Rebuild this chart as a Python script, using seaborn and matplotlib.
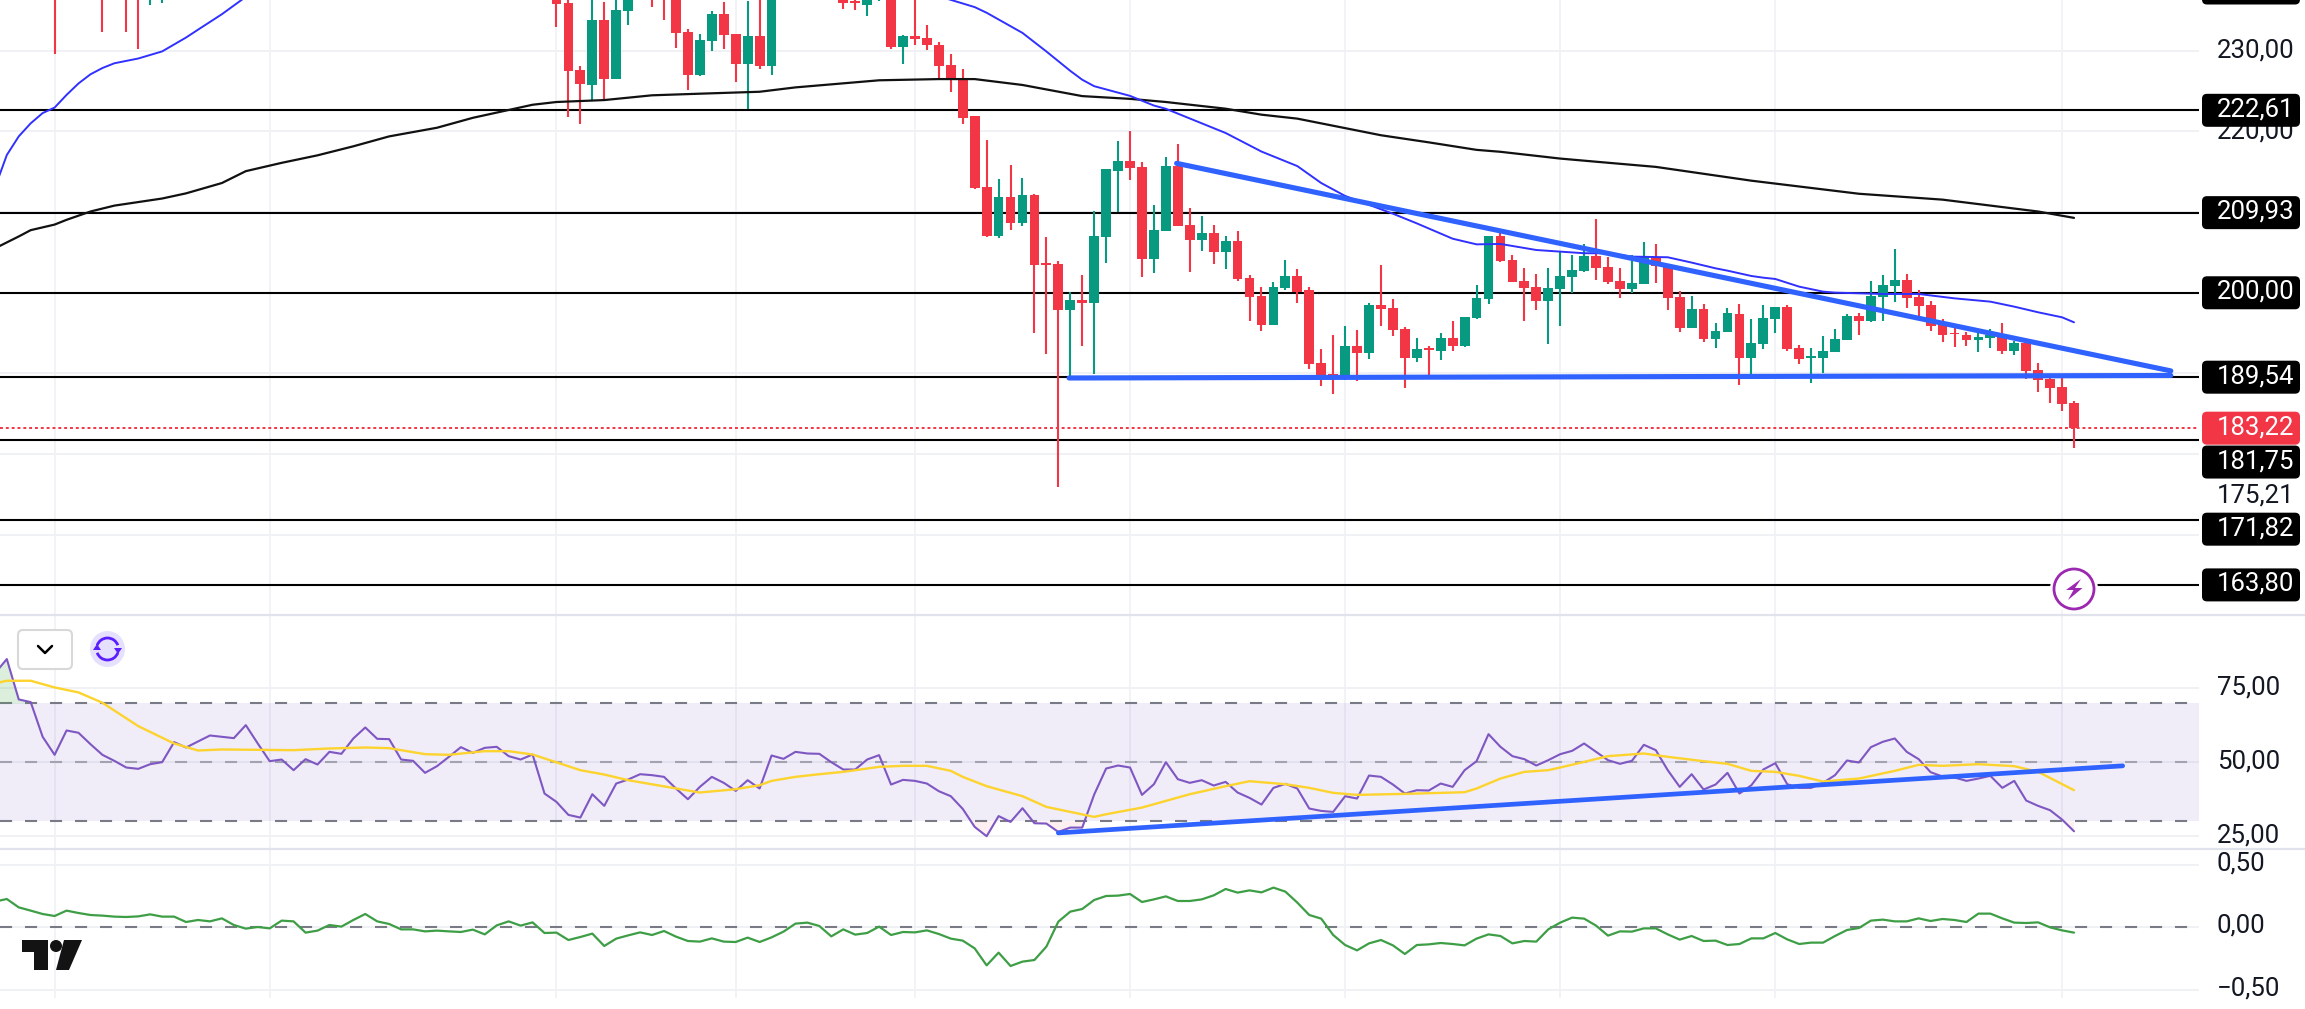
import numpy as np
import pandas as pd
import seaborn as sns
import matplotlib.pyplot as plt
from matplotlib.patches import FancyBboxPatch, Polygon, Ellipse, Arc, Circle

sns.set_theme(style='white')
plt.rcParams['font.family'] = ['Roboto', 'DejaVu Sans']

W, H = 2305, 1009
RIGHT = 2199

RED = '#f23645'
GREEN = '#089981'
GRID = '#f0f1f5'
TREND = '#2f62ff'
DASH = '#787b86'

# candles for bars 42..169, earlier ones are off the top of the screen
opens = [238.0, 235.91, 227.61, 225.75, 233.80, 226.49, 234.92, 240, 240, 241, 238, 232.32, 226.99, 231.20, 234.55, 232.07, 228.35, 231.82, 228.10,
         238, 240, 242, 241, 240,
         236.28, 236.16, 235.66, 237, 240, 230.46, 231.82, 231.57, 230.70, 228.23, 226.49, 221.91, 213.11, 207.04, 211.87, 208.65, 212.12, 203.69, 203.57, 197.87, 199.11, 198.74, 206.91, 215.09, 216.33, 215.59, 204.19, 207.66, 215.71, 208.40, 206.54, 207.41, 205.06, 206.42, 201.83, 199.60, 196.01, 200.60, 202.08, 200.35, 191.30, 189.94, 189.32, 193.41, 192.54, 198.49, 198.12, 195.52, 191.92, 193.16, 192.79, 194.40, 193.41, 196.88, 199.23, 207.04, 204.07, 201.46, 200.72, 198.99, 200.47, 201.96, 202.70, 204.56, 203.20, 201.46, 200.47, 201.09, 204.44, 203.45, 199.48, 195.64, 197.99, 194.28, 195.15, 197.38, 191.96, 193.70, 196.75, 198.24, 193.16, 191.96, 191.92, 192.66, 194.15, 197.13, 196.51, 199.48, 200.84, 201.58, 199.48, 198.49, 196.01, 195.02, 194.77, 194.19, 194.40, 194.77, 192.79, 193.78, 190.43, 189.32, 188.33, 186.35]
highs = [239.0, 237.0, 228.10, 237.0, 236.03, 237.5, 239, 242, 241, 242, 240, 232.69, 232.07, 234.92, 236.03, 232.07, 236.16, 237, 240,
         241, 243, 244, 243, 241,
         237, 237, 238, 239, 241, 231.94, 237, 233.18, 231.08, 229.59, 227.73, 221.91, 218.93, 214.10, 215.83, 214.22, 212.24, 206.91, 203.94, 200.10, 202.21, 210.14, 215.34, 218.81, 220.05, 216.21, 210.88, 216.83, 218.44, 210.51, 209.52, 208.40, 207.04, 207.66, 202.21, 200.72, 201.34, 204.06, 202.95, 200.72, 193.04, 194.77, 195.89, 195.39, 198.74, 203.44, 199.23, 195.76, 194.40, 193.41, 195.02, 196.51, 197.00, 200.97, 207.08, 207.41, 204.69, 203.07, 202.33, 203.07, 205.18, 204.69, 206.05, 209.15, 204.44, 203.07, 204.69, 206.30, 206.05, 203.45, 200.23, 199.61, 198.61, 196.26, 198.12, 198.61, 196.75, 198.49, 198.24, 198.49, 193.53, 193.16, 194.65, 195.51, 197.37, 197.50, 201.46, 202.20, 205.43, 202.33, 200.35, 198.98, 196.75, 196.13, 195.14, 195.14, 195.51, 196.26, 194.03, 193.90, 191.30, 189.94, 189.81, 186.59]
lows = [232.93, 221.78, 220.92, 223.77, 224.01, 226.49, 233.18, 237, 235.41, 233.80, 230.33, 225.13, 226.86, 229.96, 230.21, 226.12, 222.77, 227.73, 226.99,
        237, 238, 240, 239, 238,
        235.16, 235.04, 234.30, 236.16, 230.21, 228.35, 230.70, 230.09, 226.37, 224.88, 220.92, 212.86, 206.92, 206.79, 207.78, 208.28, 195.02, 192.42, 175.98, 189.40, 193.41, 189.94, 203.69, 210.01, 213.98, 201.96, 202.45, 207.66, 208.28, 202.58, 205.18, 203.57, 202.95, 201.46, 196.51, 195.27, 196.01, 200.35, 198.74, 190.56, 188.45, 187.46, 189.20, 189.07, 191.80, 195.89, 194.65, 188.21, 191.43, 189.82, 191.68, 192.79, 193.29, 196.76, 198.61, 203.82, 201.34, 196.51, 197.87, 193.66, 195.89, 199.98, 202.58, 201.59, 201.09, 199.36, 199.98, 201.09, 201.22, 197.87, 195.15, 195.64, 193.91, 193.16, 195.15, 188.58, 189.48, 193.08, 195.06, 192.83, 191.18, 188.82, 190.06, 192.66, 194.15, 194.77, 196.38, 196.51, 198.86, 198.12, 196.88, 195.27, 193.90, 193.28, 193.41, 192.66, 193.16, 192.42, 192.29, 189.32, 187.71, 186.35, 185.35, 180.77]
closes = [235.78, 227.48, 225.87, 233.80, 226.49, 235.04, 237.0, 241, 238, 238, 232.19, 226.99, 231.32, 234.55, 231.94, 228.35, 231.82, 228.10, 238,
          240, 242, 241, 240, 239,
          235.91, 235.91, 237, 238, 230.46, 231.82, 231.45, 230.70, 228.10, 226.37, 221.66, 212.99, 207.04, 211.87, 208.65, 212.12, 203.44, 203.44, 197.87, 199.11, 198.74, 207.04, 215.34, 216.33, 215.46, 204.19, 207.78, 215.71, 208.28, 206.54, 207.41, 205.06, 206.42, 201.71, 199.48, 196.01, 200.72, 202.08, 200.10, 191.18, 189.82, 189.44, 193.41, 192.54, 198.49, 197.99, 195.39, 191.92, 193.04, 192.91, 194.40, 193.41, 197.00, 199.36, 207.04, 203.94, 201.34, 200.60, 198.99, 200.60, 202.08, 202.83, 204.56, 203.07, 201.34, 200.47, 201.22, 204.44, 203.32, 199.36, 195.64, 197.99, 194.28, 195.27, 197.50, 191.97, 193.78, 196.88, 198.24, 193.04, 191.80, 192.17, 192.79, 194.27, 197.13, 196.51, 199.60, 200.97, 201.58, 199.35, 198.36, 195.89, 194.77, 194.85, 194.15, 194.52, 194.77, 192.79, 193.78, 190.31, 189.19, 188.20, 186.22, 183.22]
first_bar = 42

# lone wicks that hang into the view from the top
wick_bars = [0, 4, 6, 7, 8, 9]
wick_lows = [229.59, 232.32, 232.32, 230.2, 235.66, 235.9]
wick_colors = [RED, RED, RED, RED, GREEN, GREEN]

# moving averages
fast_bars = [-5, -4, -3, -2, -1, 0, 1, 2, 3, 4, 5, 7, 9, 11, 12, 14, 16, 40, 77, 78, 81, 83, 85, 86, 87, 90, 92, 93, 98, 101, 104, 106, 108, 112, 114, 117, 119, 121, 124, 126, 128, 130, 132, 135, 137, 139, 140, 142, 143, 144, 146, 148, 149, 153, 156, 159, 162, 164, 166, 168, 169]
fast_vals = [213.0, 217.07, 219.38, 221.0, 222.27, 222.95, 224.52, 225.94, 227.07, 227.85, 228.44, 229.03, 229.91, 231.63, 232.6, 234.52, 236.67, 252.0, 235.4, 234.7, 232.2, 229.9, 227.5, 226.4, 225.6, 224.4, 223.2, 222.8, 219.8, 217.5, 215.7, 213.6, 212.0, 209.8, 208.6, 206.7, 206.0, 206.05, 205.3, 205.1, 204.9, 204.9, 204.48, 204.4, 203.74, 203.03, 202.74, 202.08, 201.87, 201.71, 200.76, 200.14, 200.02, 199.85, 199.85, 199.31, 198.9, 198.28, 197.58, 196.96, 196.34]
slow_bars = [-5, -3, -2, 0, 1, 3, 5, 9, 11, 14, 16, 19, 22, 25, 28, 32, 35, 40, 42, 46, 50, 54, 59, 62, 69, 74, 77, 81, 86, 90, 93, 98, 101, 104, 109, 111, 115, 119, 121, 126, 129, 134, 142, 151, 158, 166, 169]
slow_vals = [205.5, 206.98, 207.76, 208.45, 209.04, 210.07, 210.8, 211.68, 212.32, 213.6, 215.07, 216.1, 217.03, 218.15, 219.38, 220.45, 221.68, 223.3, 223.64, 223.88, 224.47, 224.67, 224.91, 225.45, 226.33, 226.48, 226.48, 225.75, 224.37, 224.03, 223.64, 222.81, 222.07, 221.58, 220.11, 219.52, 218.64, 217.71, 217.47, 216.63, 216.24, 215.6, 213.89, 212.27, 211.54, 210.07, 209.28]

# horizontal levels and hand drawn trend lines
levels = [222.61, 209.93, 200.00, 189.54, 181.75, 171.82, 163.80]
level_labels = ['222,61', '209,93', '200,00', '189,54', '181,75', '171,82', '163,80']
level_shift = [0, 0, 0, 0, 22, 9, 0]
last_price = 183.22
price_grid = [160, 170, 180, 190, 200, 210, 220, 230]
time_grid = [0, 18, 42, 57, 72, 90, 108, 126, 144, 168]
trend_down_bars, trend_down_vals = [93.9, 177.1], [216.04, 190.32]
trend_flat_bars, trend_flat_vals = [84.9, 177.1], [189.44, 189.75]
trend_rsi_bars, trend_rsi_vals = [84.0, 173.07], [26.05, 48.76]

# RSI from bar -5 to bar 169
rsi_vals = [80.06, 84.92, 71.25, 70.34, 58.59, 52.49, 60.74, 59.95, 56.10, 52.49, 50.45, 48.19, 47.74, 49.32, 50.0, 56.78, 54.97, 57.0, 59.04, 58.59, 58.14, 62.55, 56.33, 50.34, 50.9, 47.29, 51.02, 49.21, 53.5, 52.83, 58.03, 61.75, 57.91, 57.8, 50.9, 50.45, 46.39, 48.65, 51.81, 55.09, 53.17, 54.86, 55.2, 52.04, 50.9, 52.6, 39.38, 36.55, 32.15, 31.24, 39.15, 35.2, 42.77, 44.13, 45.93, 45.6, 45.03, 41.08, 37.46, 41.64, 45.03, 43.0, 40.28, 43.9, 41.08, 52.26, 51.13, 53.5,
            52.94, 52.83, 50.0, 47.52, 47.52, 50.9, 52.38, 42.43, 44.01, 43.67, 42.77, 40.17, 38.48, 34.18, 28.08, 24.92, 31.75, 29.77, 34.41, 29.32, 29.21, 26.39, 27.85, 27.85, 39.04, 47.86, 48.87, 48.19, 38.93, 42.54, 50.0, 44.24, 43.0, 43.9, 42.09, 43.33, 39.72, 37.91, 35.65, 41.3, 42.66, 41.08, 34.3, 33.5, 33.16, 38.48, 37.69, 45.48, 45.03, 42.43, 39.38, 40.51, 40.4, 42.77, 41.64, 47.29, 50.34, 59.49, 55.2,
            52.04, 51.02, 48.87, 50.68, 52.71, 53.84, 56.33, 53.5, 50.68, 49.44, 50.45, 55.88, 54.07, 47.29, 41.64, 45.93, 40.74, 42.43, 46.39, 39.38, 42.2, 47.52, 49.66, 42.54, 41.3, 41.3, 43.0, 45.6, 50.57, 49.89, 55.09, 56.9, 58.03, 53.5, 51.02, 46.61, 45.14, 44.8, 43.67, 44.46, 45.37, 41.3, 43.67, 37.0, 35.2, 33.73, 30.57, 26.61]
rsi_ma_bars = [-5, -4, -2, 0, 2, 4, 7, 10, 12, 14, 20, 23, 26, 28, 31, 33, 36, 38, 40, 44, 46, 48, 54, 57, 59, 60, 62, 64, 66, 69, 71, 73, 75, 76, 78, 81, 83, 87, 88, 91, 94, 95, 98, 100, 103, 105, 107, 109, 113, 118, 119, 121, 123, 125, 126, 128, 130, 133, 135, 138, 140, 142, 144, 146, 148, 151, 154, 156, 158, 161, 164, 166, 169]
rsi_ma_vals = [76.67, 77.57, 77.57, 75.31, 73.62, 70.12, 62.21, 56.33, 53.96, 54.3, 54.07, 54.64, 54.97, 54.75, 52.71, 52.49, 53.73, 53.73, 52.6, 47.29, 45.82, 43.9, 39.72, 40.85, 42.2, 43.67, 45.03, 45.93, 46.72, 48.42, 48.76, 48.76, 47.06, 45.03, 41.87, 38.48, 34.86, 31.47, 32.37, 34.63, 38.02, 39.15, 41.87, 43.56, 42.54, 41.3, 39.61, 38.93, 39.27, 39.83, 41.08, 44.46, 46.72, 47.29, 48.19, 50.1, 52.04, 52.94, 51.81, 50.34, 49.44, 47.06, 46.72, 45.37, 43.45, 44.46, 47.06, 49.1, 48.76, 49.32, 48.65, 46.72, 40.51]

# lower oscillator from bar -5 to bar 169
osc_vals = [.203, .224, .157, .131, .104, .088, .131, .112, .096, .091, .083, .08, .085, .101, .083, .083, .04, .056, .045, .069, .016, -.013, 0, -.011, .051, .045, -.045, -.029, .016, .003, .056, .104, .045, .024, -.019, -.019, -.035, -.029, -.035, -.04, -.021, -.059, .013, .045, .011, .037, -.048, -.045, -.104, -.08, -.053, -.152, -.093, -.067, -.043, -.064, -.032, -.077, -.112, -.117, -.091, -.117, -.12, -.085, -.12, -.083, -.037, .027,
            .035, .008, -.075, -.019, -.061, -.048, .003, -.064, -.04, -.043, -.027, -.056, -.093, -.109, -.171, -.307, -.205, -.312, -.277, -.264, -.157, .043, .123, .144, .216, .248, .251, .264, .2, .221, .245, .208, .208, .221, .253, .304, .275, .293, .277, .315, .283, .195, .096, .067, -.064, -.144, -.187, -.131, -.104, -.147, -.216, -.144, -.139, -.128, -.136, -.147, -.093, -.059, -.072,
            -.131, -.112, -.117, -.019, .035, .075, .067, .011, -.069, -.035, -.037, -.011, -.011, -.059, -.101, -.072, -.112, -.109, -.144, -.136, -.091, -.091, -.048, -.099, -.136, -.125, -.125, -.072, -.024, -.008, .051, .059, .045, .045, .069, .048, .064, .056, .04, .107, .107, .069, .035, .032, .037, -.003, -.027, -.045]

rsi_ticks, rsi_tick_labels = [75, 50, 25], ['75,00', '50,00', '25,00']
osc_ticks, osc_tick_labels = [0.5, 0.0, -0.5], ['0,50', '0,00', '\u22120,50']


def panel(top, bottom, ylim):
    ax = fig.add_axes([0, 1 - bottom / H, RIGHT / W, (bottom - top) / H])
    ax.set_xlim(-4.57, 179.46)
    ax.set_ylim(*ylim)
    ax.axis('off')
    for b in time_grid:
        ax.axvline(b, color=GRID, lw=1.2, zorder=0.5)
    return ax


def line(ax, x, y, color, lw, z=3):
    df = pd.DataFrame({'x': x, 'y': y})
    sns.lineplot(data=df, x='x', y='y', ax=ax, color=color, linewidth=lw,
                 estimator=None, sort=False, legend=False, zorder=z)


def dashed(ax, value, alpha=1.0):
    ax.axhline(value, color=DASH, lw=1.5, alpha=alpha, linestyle=(0, (5.8, 6.2)), zorder=1.5)


fig = plt.figure(figsize=(W / 100, H / 100), dpi=100, facecolor='white')

# price panel
ax_main = panel(0, 615, (160.07, 236.28))
for p in price_grid:
    ax_main.axhline(p, color=GRID, lw=1.4, zorder=0.6)
for lv in levels:
    ax_main.axhline(lv, color='black', lw=1.5, zorder=1)
ax_main.axhline(last_price, color=RED, lw=1.4, linestyle=(0, (1.5, 1.5)), zorder=1.2)

ax_main.vlines(wick_bars, wick_lows, 240, colors=wick_colors, lw=1.5, zorder=2)
bars = np.arange(first_bar, first_bar + len(opens))
o, h, l, c = map(np.array, (opens, highs, lows, closes))
candle_colors = np.where(c >= o, GREEN, RED)
ax_main.vlines(bars, l, h, colors=candle_colors, lw=1.5, zorder=2)
ax_main.bar(bars, np.abs(c - o), bottom=np.minimum(o, c), width=0.82,
            color=candle_colors, linewidth=0, zorder=2.5)

line(ax_main, slow_bars, slow_vals, '#111111', 1.6)
line(ax_main, fast_bars, fast_vals, '#3030ff', 1.4)
line(ax_main, trend_down_bars, trend_down_vals, TREND, 3.7, z=4)
line(ax_main, trend_flat_bars, trend_flat_vals, TREND, 3.7, z=4)

# RSI panel
ax_rsi = panel(616, 849, (20.6, 99.5))
for t in rsi_ticks:
    ax_rsi.axhline(t, color=GRID, lw=1.4, zorder=0.6)
ax_rsi.axhspan(30, 70, color='#7e57c2', alpha=0.11, lw=0, zorder=1)
dashed(ax_rsi, 70)
dashed(ax_rsi, 30)
dashed(ax_rsi, 50, alpha=0.6)
rsi_bars = np.arange(-5, -5 + len(rsi_vals))
rsi = np.array(rsi_vals)
ax_rsi.fill_between(rsi_bars, rsi, 70, where=rsi > 70, interpolate=True,
                    color='#4caf50', alpha=0.2, lw=0, zorder=1.6)
ax_rsi.fill_between(rsi_bars, rsi, 30, where=rsi < 30, interpolate=True,
                    color=RED, alpha=0.07, lw=0, zorder=1.6)
line(ax_rsi, rsi_bars, rsi_vals, '#7e57c2', 1.5)
line(ax_rsi, rsi_ma_bars, rsi_ma_vals, '#fdd32e', 1.7, z=3.1)
line(ax_rsi, trend_rsi_bars, trend_rsi_vals, TREND, 3.4, z=4)

# oscillator panel
ax_osc = panel(849, 998, (-0.568, 0.624))
for t in osc_ticks:
    ax_osc.axhline(t, color=GRID, lw=1.4, zorder=0.6)
dashed(ax_osc, 0)
line(ax_osc, np.arange(-5, -5 + len(osc_vals)), osc_vals, '#3d9e46', 1.6)

# everything in the right gutter and the small icons, in pixels
ov = fig.add_axes([0, 0, 1, 1], zorder=10)
ov.set_xlim(0, W)
ov.set_ylim(H, 0)
ov.axis('off')
ov.patch.set_alpha(0)


def to_px(ax, value):
    return H - ax.transData.transform((0, value))[1]


def tick_text(y, label):
    ov.text(2217, y, label, fontsize=18.5, color='#131722', va='center', ha='left', zorder=2)


def price_box(y, label, color):
    ov.add_patch(FancyBboxPatch((2206, y - 12.5), 90, 25, boxstyle='round,pad=4,rounding_size=5',
                                fc=color, ec='none', zorder=3))
    if label:
        ov.text(2217, y - 1, label, fontsize=18.5, color='white', va='center', ha='left', zorder=4)


for y in (615, 849):
    ov.plot([0, W], [y, y], color='#e0e3eb', lw=1.6, zorder=1)

tick_text(to_px(ax_main, 230), '230,00')
tick_text(to_px(ax_main, 220), '220,00')
tick_text(495, '175,21')
for t, lab in zip(rsi_ticks, rsi_tick_labels):
    tick_text(to_px(ax_rsi, t) - 1, lab)
for t, lab in zip(osc_ticks, osc_tick_labels):
    tick_text(to_px(ax_osc, t) - 1, lab)

price_box(-12, '', 'black')
for lv, lab, sh in zip(levels, level_labels, level_shift):
    price_box(to_px(ax_main, lv) + sh, lab, 'black')
price_box(to_px(ax_main, last_price), '183,22', RED)

# lightning badge
ov.add_patch(Circle((2074, 589), 24, fc='white', ec='none', zorder=2))
ov.add_patch(Ellipse((2074, 589), 40, 40, fc='white', ec='#9c27b0', lw=2, zorder=3))
ov.add_patch(Polygon([(2081, 579), (2066, 590), (2073.5, 590), (2068, 600), (2082.5, 588), (2075, 588)],
                     closed=True, fc='#9c27b0', ec='none', zorder=4))

# collapse button and refresh icon
ov.add_patch(FancyBboxPatch((19, 631), 52, 37, boxstyle='round,pad=1,rounding_size=5',
                            fc='white', ec='#d8d8d8', lw=1.5, zorder=3))
ov.plot([38, 45, 52], [646, 653, 646], color='black', lw=1.8, zorder=4)
ov.add_patch(Ellipse((107.5, 649), 35, 36, fc='#e6e0ff', ec='none', zorder=3))
ov.add_patch(Arc((107.5, 649), 22, 22, theta1=200, theta2=340, color='#5a1eff', lw=2, zorder=4))
ov.add_patch(Arc((107.5, 649), 22, 22, theta1=20, theta2=160, color='#5a1eff', lw=2, zorder=4))
ov.add_patch(Polygon([(114, 648), (122, 648), (118, 654)], closed=True, fc='#5a1eff', ec='none', zorder=4))
ov.add_patch(Polygon([(93, 650), (101, 650), (97, 644)], closed=True, fc='#5a1eff', ec='none', zorder=4))

# logo
ov.add_patch(Polygon([(22, 940), (47.5, 940), (47.5, 970), (34, 970), (34, 951.5), (22, 951.5)],
                     closed=True, fc='#131313', ec='none', zorder=4))
ov.add_patch(Ellipse((56, 946), 12, 12, fc='#131313', ec='none', zorder=4))
ov.add_patch(Polygon([(64, 940), (82, 940), (69, 970), (56, 970)], closed=True, fc='#131313', ec='none', zorder=4))

fig.savefig('out.png', dpi=100)
